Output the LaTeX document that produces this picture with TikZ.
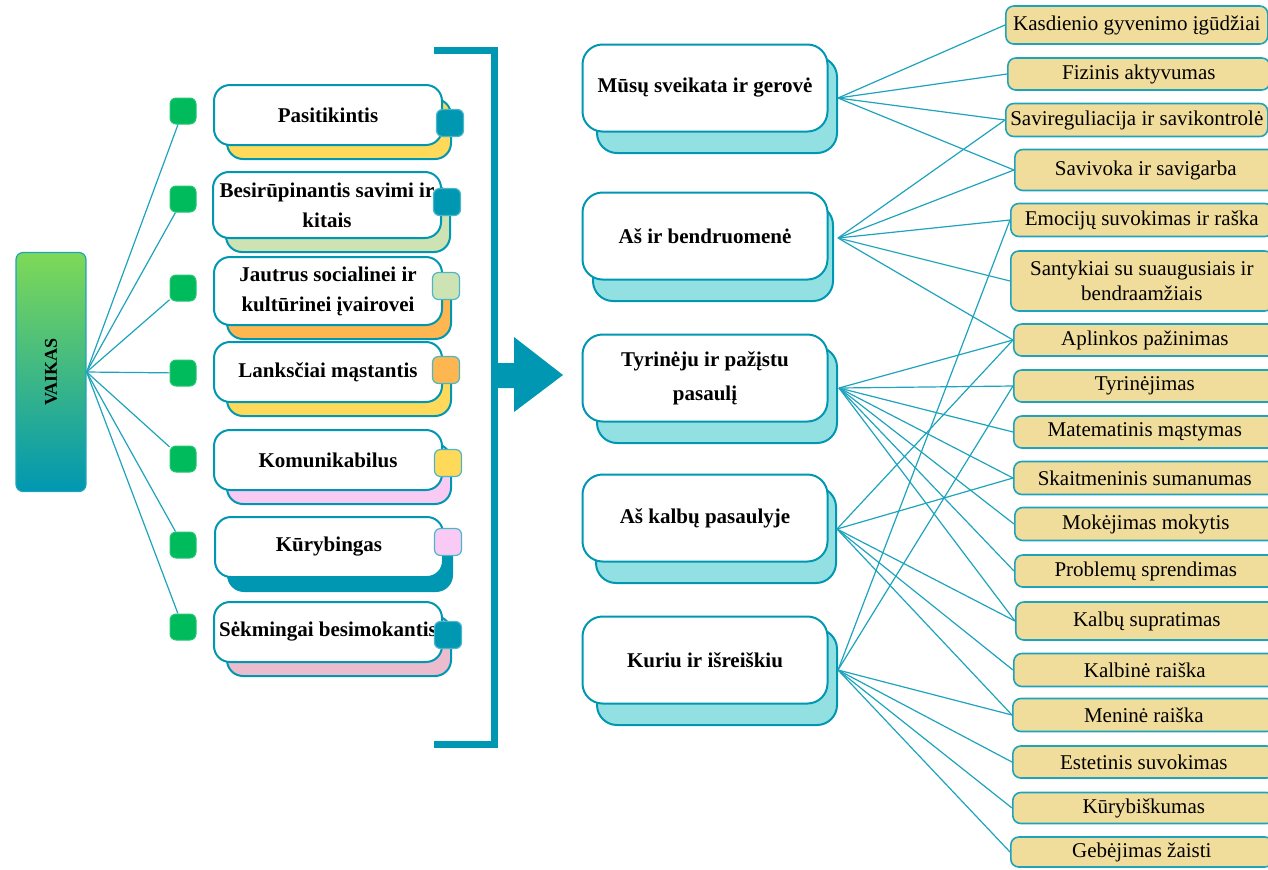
\documentclass[tikz,border=0pt]{standalone}
\usepackage{fontspec}
\setmainfont{Liberation Serif}
\definecolor{tealdark}{RGB}{0,151,178}
\definecolor{tealline}{RGB}{30,163,188}
\definecolor{dotgreen}{RGB}{0,187,92}
\definecolor{sandfill}{RGB}{240,220,155}
\definecolor{cyanlight}{RGB}{147,224,227}
\definecolor{sunyellow}{RGB}{255,217,90}
\definecolor{palegreen}{RGB}{205,227,180}
\definecolor{softorange}{RGB}{253,182,80}
\definecolor{candypink}{RGB}{249,202,244}
\definecolor{dustypink}{RGB}{235,188,205}
\definecolor{vaikastop}{RGB}{126,217,87}
\begin{document}
\begin{tikzpicture}[x=0.5pt,y=-0.5pt,
    link/.style={draw=tealline,line width=0.6pt},
    dot/.style={fill=dotgreen,draw=dotgreen!85!white,line width=0.5pt,rounded corners=3pt,minimum size=13pt,inner sep=0pt},
    trait/.style={draw=tealdark,line width=1pt,fill=white,rounded corners=8pt,minimum width=114pt,inner sep=1pt,align=center,font=\fontsize{10.5}{15}\selectfont\bfseries},
    traitback/.style={trait,fill=#1,minimum width=112pt},
    tag/.style={fill=#1,draw=tealdark!70,line width=0.6pt,rounded corners=3pt,minimum size=13.5pt,inner sep=0pt},
    area/.style={draw=tealdark,line width=1pt,fill=white,rounded corners=10pt,minimum width=122.5pt,minimum height=43.5pt,align=center,font=\fontsize{10.5}{17}\selectfont\bfseries},
    areaback/.style={area,fill=cyanlight,minimum width=120pt,minimum height=48pt},
    skill/.style={draw=tealline,line width=0.8pt,fill=sandfill,rounded corners=4pt,anchor=west,minimum width=131pt,inner sep=1pt,align=center,font=\fontsize{10.5}{12.5}\selectfont}]
    \useasboundingbox (0,0) rectangle (1268,869);

    \node[draw=tealline,line width=0.6pt,rounded corners=3.5pt,top color=vaikastop,bottom color=tealdark,minimum width=35pt,minimum height=119.5pt] (vaikas) at (51,372) {};
    \node[rotate=90,font=\fontsize{9}{11}\selectfont\bfseries] (vaikastext) at (vaikas.center) {VAIKAS};

    \node[dot] (d1) at (183,111) {};
    \node[dot] (d2) at (183,199) {};
    \node[dot] (d3) at (183,288) {};
    \node[dot] (d4) at (183,373) {};
    \node[dot] (d5) at (183,459) {};
    \node[dot] (d6) at (183,545) {};
    \node[dot] (d7) at (183,627) {};
    \draw[link] (vaikas.east) -- (d1);
    \draw[link] (vaikas.east) -- (d2);
    \draw[link] (vaikas.east) -- (d3);
    \draw[link] (vaikas.east) -- (d4);
    \draw[link] (vaikas.east) -- (d5);
    \draw[link] (vaikas.east) -- (d6);
    \draw[link] (vaikas.east) -- (d7);

    \node[traitback=sunyellow,minimum height=30pt] (p1back) at (339,129) {};
    \node[trait,minimum height=30pt] (p1) at (328,115) {Pasitikintis};
    \node[tag=tealdark] (t1) at (450,123) {};
    \node[traitback=palegreen,minimum height=33pt] (p2back) at (338,219) {};
    \node[trait,minimum height=33pt] (p2) at (327,205) {Besirūpinantis savimi ir\\kitais};
    \node[tag=tealdark] (t2) at (447,202) {};
    \node[traitback=softorange,minimum height=34pt] (p3back) at (339,305) {};
    \node[trait,minimum height=34pt] (p3) at (328,291) {Jautrus socialinei ir\\kultūrinei įvairovei};
    \node[tag=palegreen] (t3) at (446,286) {};
    \node[traitback=sunyellow,minimum height=30pt] (p4back) at (339,386) {};
    \node[trait,minimum height=30pt] (p4) at (328,372) {Lanksčiai mąstantis};
    \node[tag=softorange] (t4) at (446,370) {};
    \node[traitback=candypink,minimum height=30pt] (p5back) at (339,474) {};
    \node[trait,minimum height=30pt] (p5) at (328,460) {Komunikabilus};
    \node[tag=sunyellow] (t5) at (448,463) {};
    \node[traitback=tealdark,minimum height=30pt] (p6back) at (340,561) {};
    \node[trait,minimum height=30pt] (p6) at (329,547) {Kūrybingas};
    \node[tag=candypink] (t6) at (448,542) {};
    \node[traitback=dustypink,minimum height=30pt] (p7back) at (339,646) {};
    \node[trait,minimum height=30pt] (p7) at (328,632) {Sėkmingai besimokantis};
    \node[tag=tealdark] (t7) at (448,635) {};

    \draw[tealdark,line width=3.5pt] (434,50) -- (494,50) -- (494,744) -- (434,744);
    \fill[tealdark] (494,363) -- (514,363) -- (514,337) -- (563,375) -- (514,412) -- (514,388) -- (494,388) -- cycle;

    \node[areaback] (m1back) at (717,105) {};
    \node[area] (m1) at (705,88) {Mūsų sveikata ir gerovė};
    \node[areaback] (m2back) at (713,253) {};
    \node[area] (m2) at (705,236) {Aš ir bendruomenė};
    \node[areaback] (m3back) at (717,395) {};
    \node[area] (m3) at (705,378) {Tyrinėju ir pažįstu\\pasaulį};
    \node[areaback] (m4back) at (716,535) {};
    \node[area] (m4) at (705,518) {Aš kalbų pasaulyje};
    \node[areaback] (m5back) at (717,677) {};
    \node[area] (m5) at (705,660) {Kuriu ir išreiškiu};
    \coordinate (m1hub) at (838,98);
    \coordinate (m2hub) at (838,238);
    \coordinate (m3hub) at (839,388);
    \coordinate (m4hub) at (837,529);
    \coordinate (m5hub) at (838,670);

    \node[skill,minimum height=19pt] (r1) at (1005,25) {Kasdienio gyvenimo įgūdžiai};
    \node[skill,minimum height=16pt] (r2) at (1007,74) {Fizinis aktyvumas};
    \node[skill,minimum height=16.5pt] (r3) at (1005,120) {Savireguliacija ir savikontrolė};
    \node[skill,minimum height=20.5pt] (r4) at (1014,170) {Savivoka ir savigarba};
    \node[skill,minimum height=16.5pt] (r5) at (1010,220) {Emocijų suvokimas ir raška};
    \node[skill,minimum height=30pt] (r6) at (1010,281) {Santykiai su suaugusiais ir\\bendraamžiais};
    \node[skill,minimum height=16pt] (r7) at (1013,340) {Aplinkos pažinimas};
    \node[skill,minimum height=16pt] (r8) at (1013,386) {Tyrinėjimas};
    \node[skill,minimum height=16pt] (r9) at (1013,432) {Matematinis mąstymas};
    \node[skill,minimum height=16.5pt] (r10) at (1013,478) {Skaitmeninis sumanumas};
    \node[skill,minimum height=16.5pt] (r11) at (1014,524) {Mokėjimas mokytis};
    \node[skill,minimum height=16pt] (r12) at (1014,571) {Problemų sprendimas};
    \node[skill,minimum height=19pt] (r13) at (1015,621) {Kalbų supratimas};
    \node[skill,minimum height=16.5pt] (r14) at (1013,670) {Kalbinė raiška};
    \node[skill,minimum height=16.5pt] (r15) at (1012,715) {Meninė raiška};
    \node[skill,minimum height=16pt] (r16) at (1012,762) {Estetinis suvokimas};
    \node[skill,minimum height=15.5pt] (r17) at (1012,808) {Kūrybiškumas};
    \node[skill,minimum height=15pt] (r18) at (1010,852) {Gebėjimas žaisti};

    \draw[link] (m1hub) -- (r1.west);
    \draw[link] (m1hub) -- (r2.west);
    \draw[link] (m1hub) -- (r3.west);
    \draw[link] (m1hub) -- (r4.west);
    \draw[link] (m2hub) -- (r3.west);
    \draw[link] (m2hub) -- (r4.west);
    \draw[link] (m2hub) -- (r5.west);
    \draw[link] (m2hub) -- (r6.west);
    \draw[link] (m2hub) -- (r7.west);
    \draw[link] (m3hub) -- (r7.west);
    \draw[link] (m3hub) -- (r8.west);
    \draw[link] (m3hub) -- (r9.west);
    \draw[link] (m3hub) -- (r10.west);
    \draw[link] (m3hub) -- (r11.west);
    \draw[link] (m3hub) -- (r12.west);
    \draw[link] (m3hub) -- (r13.west);
    \draw[link] (m4hub) -- (r7.west);
    \draw[link] (m4hub) -- (r10.west);
    \draw[link] (m4hub) -- (r13.west);
    \draw[link] (m4hub) -- (r14.west);
    \draw[link] (m4hub) -- (r15.west);
    \draw[link] (m5hub) -- (r5.west);
    \draw[link] (m5hub) -- (r8.west);
    \draw[link] (m5hub) -- (r15.west);
    \draw[link] (m5hub) -- (r16.west);
    \draw[link] (m5hub) -- (r17.west);
    \draw[link] (m5hub) -- (r18.west);
\end{tikzpicture}
\end{document}
